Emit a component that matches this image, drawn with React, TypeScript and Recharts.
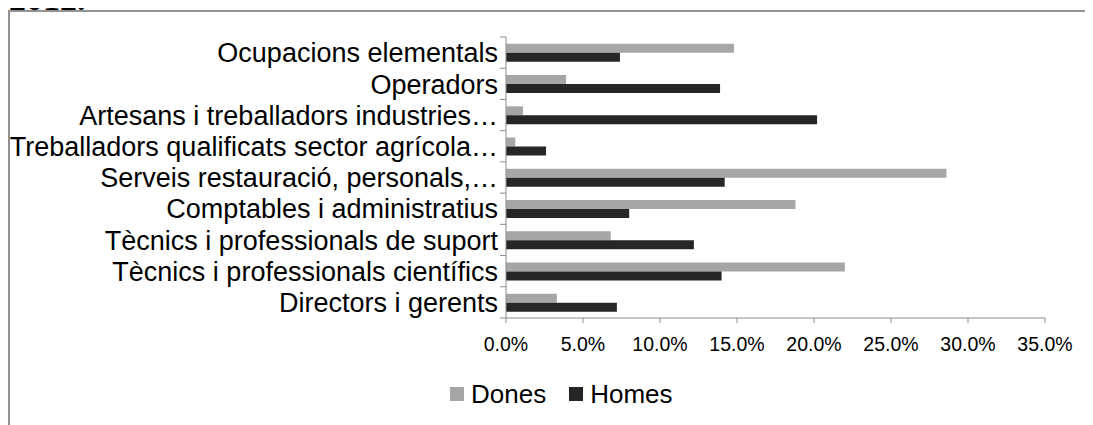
import { BarChart, Bar, XAxis, YAxis, Legend } from 'recharts';

const categories = [
    'Ocupacions elementals',
    'Operadors',
    'Artesans i treballadors industries…',
    'Treballadors qualificats sector agrícola…',
    'Serveis restauració, personals,…',
    'Comptables i administratius',
    'Tècnics i professionals de suport',
    'Tècnics i professionals científics',
    'Directors i gerents',
];
const dones = [14.8, 3.9, 1.1, 0.6, 28.6, 18.8, 6.8, 22.0, 3.3];
const homes = [7.4, 13.9, 20.2, 2.6, 14.2, 8.0, 12.2, 14.0, 7.2];
const xTicks = [0, 5, 10, 15, 20, 25, 30, 35];

const series = [
    { key: 'Dones', color: '#a6a6a6' },
    { key: 'Homes', color: '#262626' },
];

const FONT = '"Liberation Sans", Arial, sans-serif';
const AXIS = '#8c8c8c';
const TICK_SIZE = 6;
const TICK_MARGIN = 2;

const data = categories.map((name, i) => ({ name, Dones: dones[i], Homes: homes[i] }));

// category labels centered, tick marks on the band edges (like Excel)
const CategoryTick = (props: any) => {
    const { x, y, payload } = props;
    const half = payload && payload.offset ? payload.offset : 15.6;
    const lineX = x + TICK_SIZE + TICK_MARGIN;
    const last = categories.indexOf(payload.value) === categories.length - 1;
    return (
        <g>
            <line x1={lineX - TICK_SIZE} x2={lineX} y1={y - half} y2={y - half} stroke={AXIS} />
            {last && <line x1={lineX - TICK_SIZE} x2={lineX} y1={y + half} y2={y + half} stroke={AXIS} />}
            <text x={x} y={y} dy="0.36em" textAnchor="end" fontSize={27} fontFamily={FONT} fill="#000">
                {payload.value}
            </text>
        </g>
    );
};

const LegendContent = () => (
    <div style={{ height: 40, display: 'flex', alignItems: 'center', paddingLeft: 442, fontFamily: FONT, fontSize: 26, color: '#000' }}>
        {series.map((s, i) => (
            <div key={s.key} style={{ display: 'flex', alignItems: 'center', marginLeft: i ? 23 : 0 }}>
                <span style={{ width: 14, height: 14, background: s.color, marginRight: 7, display: 'inline-block' }} />
                <span>{s.key}</span>
            </div>
        ))}
    </div>
);

export default function App() {
    return (
        <div style={{ position: 'relative', width: 1085, height: 417 }}>
            <div style={{ position: 'absolute', left: 1, top: -26, fontFamily: '"Liberation Serif", serif', fontSize: 34, fontWeight: 'bold', lineHeight: 1 }}>
                2012.
            </div>
            <div style={{ position: 'absolute', left: 0, top: 2, width: 1083, height: 413, borderTop: '2px solid #929292', borderLeft: '2px solid #929292' }} />
            <div style={{ position: 'absolute', left: 0, top: 0 }}>
                <BarChart
                    width={1085}
                    height={417}
                    data={data}
                    layout="vertical"
                    margin={{ top: 29, right: 48, left: 0, bottom: 11 }}
                    barCategoryGap="22%"
                    barGap={0}
                >
                    <XAxis
                        type="number"
                        domain={[0, 35]}
                        ticks={xTicks}
                        tickFormatter={(v) => v.toFixed(1) + '%'}
                        height={56}
                        tickSize={5}
                        tickMargin={14}
                        stroke={AXIS}
                        tick={{ fill: '#000', fontSize: 19.5, fontFamily: FONT }}
                    />
                    <YAxis
                        type="category"
                        dataKey="name"
                        width={498}
                        interval={0}
                        tickLine={false}
                        tickSize={TICK_SIZE}
                        tickMargin={TICK_MARGIN}
                        stroke={AXIS}
                        tick={<CategoryTick />}
                    />
                    <Legend verticalAlign="bottom" align="left" content={<LegendContent />} />
                    {series.map((s) => (
                        <Bar key={s.key} dataKey={s.key} fill={s.color} isAnimationActive={false} />
                    ))}
                </BarChart>
            </div>
        </div>
    );
}
